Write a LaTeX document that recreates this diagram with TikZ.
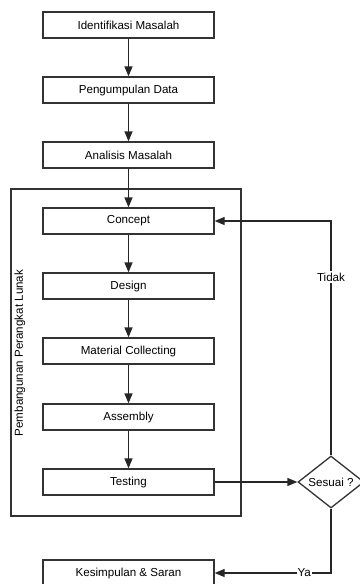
\documentclass[tikz,border=0pt]{standalone}
\usepackage{fontspec}
\setmainfont{Liberation Sans}
\usetikzlibrary{arrows.meta,shapes.geometric}

\begin{document}
\begin{tikzpicture}[x=1pt,y=-1pt,
  every node/.style={font=\fontsize{11.6}{13}\selectfont},
  tahap/.style={draw=black!80,line width=1.3pt,minimum width=171pt,minimum height=26pt,inner sep=0pt},
  panah/.style={draw=black!85,line width=1.3pt,-{Triangle[length=10pt,width=8pt]}}]
\useasboundingbox (0,0) rectangle (359,584);
% frame pembangunan
\draw[black!80,line width=1.3pt] (11,189) rectangle (241,516);
\node[rotate=90] (lbl) at (20,353) {Pembangunan Perangkat Lunak};
% tahap
\node[tahap] (ident) at (128.5,25) {Identifikasi Masalah};
\node[tahap] (kumpul) at (128.5,90) {Pengumpulan Data};
\node[tahap] (analisis) at (128.5,155) {Analisis Masalah};
\node[tahap] (concept) at (128.5,221) {Concept};
\node[tahap] (design) at (128.5,286) {Design};
\node[tahap] (material) at (128.5,351) {Material Collecting};
\node[tahap] (assembly) at (128.5,417) {Assembly};
\node[tahap] (testing) at (128.5,482) {Testing};
\node[tahap] (simpul) at (128.5,573) {Kesimpulan \& Saran};
\node[draw=black!80,line width=1.3pt,diamond,aspect=1.27,minimum width=66pt,minimum height=52pt,inner sep=0pt] (cek) at (331,482) {Sesuai ?};
% alur
\draw[panah] (ident) -- (kumpul);
\draw[panah] (kumpul) -- (analisis);
\draw[panah] (analisis) -- (concept);
\draw[panah] (concept) -- (design);
\draw[panah] (design) -- (material);
\draw[panah] (material) -- (assembly);
\draw[panah] (assembly) -- (testing);
\draw[panah] (testing) -- (cek);
\draw[panah] (cek.north) |- (concept.east) node[pos=0.38,fill=white,inner sep=1.5pt] {Tidak};
\draw[panah] (cek.south) |- (simpul.east) node[pos=0.615,fill=white,inner sep=1pt] {Ya};
\end{tikzpicture}
\end{document}
